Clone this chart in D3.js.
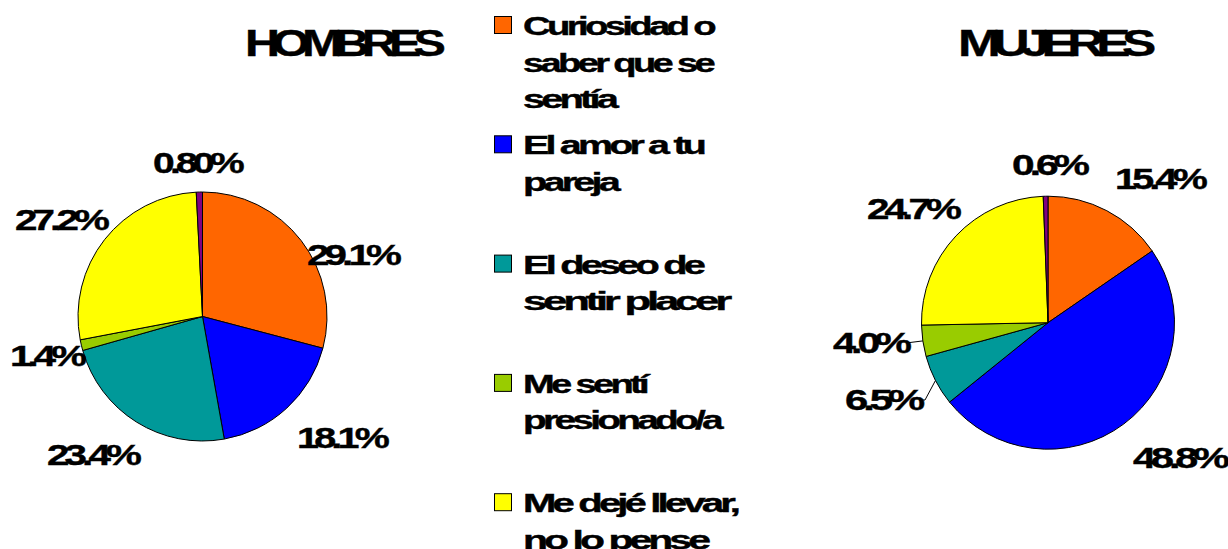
<!DOCTYPE html>
<html><head><meta charset="utf-8">
<script src="https://cdn.jsdelivr.net/npm/d3@7"></script>
<style>html,body{margin:0;padding:0;background:#fff;overflow:hidden}</style>
</head><body><svg id="c" width="1228" height="549"></svg>
<script>
// ---- data ----
const categories = ["Curiosidad o saber que se sentía", "El amor a tu pareja", "El deseo de sentir placer", "Me sentí presionado/a", "Me dejé llevar, no lo pense", "Otro"];
const legendLines = [["Curiosidad o", "saber que se", "sentía"], ["El amor a tu", "pareja"], ["El deseo de", "sentir placer"], ["Me sentí", "presionado/a"], ["Me dejé llevar,", "no lo pense"]];
const hombresValues = [29.1, 18.1, 23.4, 1.4, 27.2, 0.8];
const mujeresValues = [15.4, 48.8, 6.5, 4.0, 24.7, 0.6];
const hombresLabels = ["29.1%", "18.1%", "23.4%", "1.4%", "27.2%", "0.80%"];
const mujeresLabels = ["15.4%", "48.8%", "6.5%", "4.0%", "24.7%", "0.6%"];
const colors = ["#FF6600", "#0000FF", "#009999", "#99CC00", "#FFFF00", "#800080"];

// ---- layout ----
const FONT = "'Liberation Sans', Arial, Helvetica, sans-serif";
const svg = d3.select("#c");
svg.append("rect").attr("width", 1228).attr("height", 549).attr("fill", "#fff");

const color = d3.scaleOrdinal().domain(categories).range(colors);

function fitText(sel, w) {
  sel.attr("textLength", w).attr("lengthAdjust", "spacingAndGlyphs")
    .attr("stroke", "#000").attr("stroke-width", 0.4);
}

const pies = [
  { title: "HOMBRES", titleX: 245, titleW: 193, cx: 202.5, cy: 316.5, r: 124.5,
    values: hombresValues, labels: hombresLabels,
    // label placement relative to pie centre: [dx(left), dy(baseline), width]
    lab: [[104.5, -51.5, 90], [94.5, 131.5, 88], [-155.5, 148.5, 90], [-192.5, 49.5, 72], [-187.5, -86.5, 90], [-49.5, -143.5, 87]],
    leaders: [] },
  { title: "MUJERES", titleX: 958, titleW: 190, cx: 1048, cy: 322.7, r: 126.5,
    values: mujeresValues, labels: mujeresLabels,
    lab: [[67, -133.7, 88], [85, 145.3, 92], [-203, 87.3, 75], [-215, 30.3, 74], [-181, -103.7, 90], [-36, -147.7, 73]],
    leaders: [{ i: 2, elbow: 6 }, { i: 3, elbow: 0 }] }
];

const pie = d3.pie().sort(null).value(d => d).startAngle(0).endAngle(2 * Math.PI);

pies.forEach(p => {
  const g = svg.append("g").attr("transform", `translate(${p.cx},${p.cy})`);
  const arc = d3.arc().innerRadius(0).outerRadius(p.r);
  const arcs = pie(p.values);
  g.selectAll("path.slice").data(arcs).join("path")
    .attr("class", "slice")
    .attr("d", arc)
    .attr("fill", (d, i) => color(categories[i]))
    .attr("stroke", "#000").attr("stroke-width", 1).attr("stroke-linejoin", "round");

  // leader lines
  p.leaders.forEach(L => {
    const a = arcs[L.i];
    const mid = (a.startAngle + a.endAngle) / 2;
    const sx = p.r * Math.sin(mid), sy = -p.r * Math.cos(mid);
    const lb = p.lab[L.i];
    const ex = lb[0] + lb[2] - 1, ey = lb[1] - 10;
    const pts = L.elbow ? [[sx, sy], [ex + L.elbow, ey], [ex, ey]] : [[sx, sy], [ex, ey]];
    g.append("path").attr("d", d3.line()(pts)).attr("fill", "none").attr("stroke", "#000").attr("stroke-width", 1);
  });

  // labels
  g.selectAll("text.lab").data(arcs).join("text")
    .attr("class", "lab")
    .attr("x", (d, i) => p.lab[i][0])
    .attr("y", (d, i) => p.lab[i][1])
    .attr("font-family", FONT).attr("font-weight", "bold").attr("font-size", 29)
    .attr("letter-spacing", "-3.5px")
    .attr("fill", "#000")
    .text((d, i) => p.labels[i])
    .each(function (d, i) { fitText(d3.select(this), p.lab[i][2]); });

  // title
  svg.append("text").attr("x", p.titleX).attr("y", 56)
    .attr("font-family", FONT).attr("font-weight", "bold").attr("font-size", 37)
    .attr("letter-spacing", "-6px").attr("fill", "#000")
    .text(p.title).call(fitText, p.titleW);
});

// legend
const legendWidths = [[190, 189, 92], [180, 94], [179, 205], [123, 197], [214, 184]];
const legendStep = 119.3, lineStep = 36.5, firstBase = 35;
const leg = svg.append("g");
legendLines.forEach((lines, i) => {
  const base = firstBase + i * legendStep;
  leg.append("rect").attr("x", 494.5).attr("y", base - 18.5).attr("width", 17).attr("height", 17)
    .attr("fill", color(categories[i])).attr("stroke", "#000").attr("stroke-width", 1);
  lines.forEach((t, j) => {
    leg.append("text").attr("x", 523).attr("y", base + j * lineStep)
      .attr("font-family", FONT).attr("font-weight", "bold").attr("font-size", 26)
      .attr("letter-spacing", "-2.5px").attr("fill", "#000")
      .text(t).call(fitText, legendWidths[i][j]);
  });
});
</script></body></html>
